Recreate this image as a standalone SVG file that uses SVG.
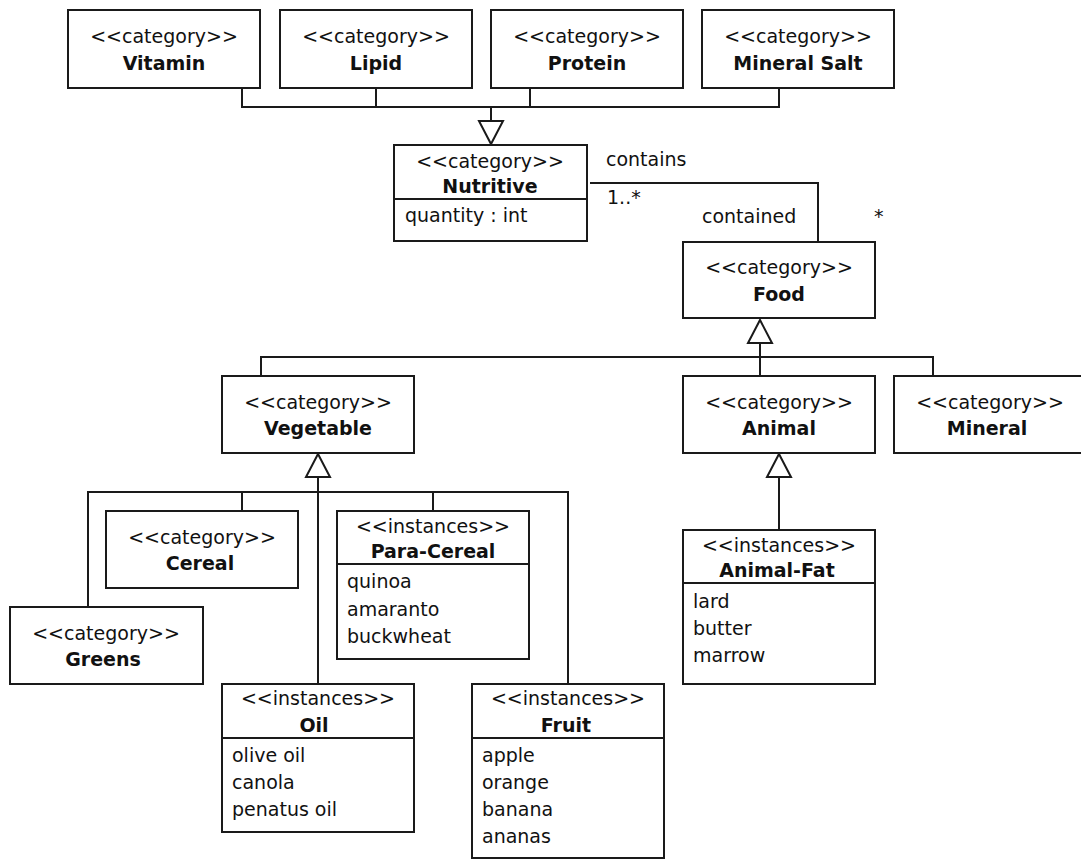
<svg xmlns="http://www.w3.org/2000/svg" width="1081" height="860" viewBox="0 0 1081 860">
<style>
.box{fill:#fff;stroke:#1a1a1a;stroke-width:2}
.div{stroke:#1a1a1a;stroke-width:2}
.ln{fill:none;stroke:#1a1a1a;stroke-width:2}
.tri{fill:#fff;stroke:#1a1a1a;stroke-width:2}
text{font-family:"DejaVu Sans",Verdana,sans-serif;font-size:19px;fill:#111}
.st{text-anchor:middle}
.nm{text-anchor:middle;font-weight:bold}
</style>
<rect width="1081" height="860" fill="#fff"/>
<g id="connectors">
  <path class="ln" d="M242,89 V107 H779 V89 M376,89 V107 M530,89 V107 M491,107 V121"/>
  <polygon class="tri" points="479,121 503,121 491,144"/>
  <path class="ln" d="M590,183 H818 V242"/>
  <text x="606" y="166">contains</text>
  <text x="607" y="204">1..*</text>
  <text x="702" y="223">contained</text>
  <text x="874" y="223">*</text>
  <path class="ln" d="M261,376 V357 H933 V376 M760,343 V376"/>
  <polygon class="tri" points="748,343 772,343 760,320"/>
  <path class="ln" d="M88,607 V492 H568 V684 M242,492 V511 M433,492 V511 M318,477 V684"/>
  <polygon class="tri" points="306,477 330,477 318,454"/>
  <path class="ln" d="M779,477 V530"/>
  <polygon class="tri" points="767,477 791,477 779,454"/>
</g>
<g id="vitamin"><rect class="box" x="68" y="10" width="192" height="78"/><text class="st" x="164" y="43">&lt;&lt;category&gt;&gt;</text><text class="nm" x="164" y="70">Vitamin</text></g>
<g id="lipid"><rect class="box" x="280" y="10" width="192" height="78"/><text class="st" x="376" y="43">&lt;&lt;category&gt;&gt;</text><text class="nm" x="376" y="70">Lipid</text></g>
<g id="protein"><rect class="box" x="491" y="10" width="192" height="78"/><text class="st" x="587" y="43">&lt;&lt;category&gt;&gt;</text><text class="nm" x="587" y="70">Protein</text></g>
<g id="mineralsalt"><rect class="box" x="702" y="10" width="192" height="78"/><text class="st" x="798" y="43">&lt;&lt;category&gt;&gt;</text><text class="nm" x="798" y="70">Mineral Salt</text></g>
<g id="nutritive"><rect class="box" x="394" y="145" width="193" height="96"/><line class="div" x1="394" y1="199" x2="587" y2="199"/><text class="st" x="490" y="168">&lt;&lt;category&gt;&gt;</text><text class="nm" x="490" y="193">Nutritive</text><text x="405" y="222">quantity : int</text></g>
<g id="food"><rect class="box" x="683" y="242" width="192" height="76"/><text class="st" x="779" y="274">&lt;&lt;category&gt;&gt;</text><text class="nm" x="779" y="301">Food</text></g>
<g id="vegetable"><rect class="box" x="222" y="376" width="192" height="77"/><text class="st" x="318" y="409">&lt;&lt;category&gt;&gt;</text><text class="nm" x="318" y="435">Vegetable</text></g>
<g id="animal"><rect class="box" x="683" y="376" width="192" height="77"/><text class="st" x="779" y="409">&lt;&lt;category&gt;&gt;</text><text class="nm" x="779" y="435">Animal</text></g>
<g id="mineral"><rect class="box" x="894" y="376" width="192" height="77"/><text class="st" x="990" y="409">&lt;&lt;category&gt;&gt;</text><text class="nm" x="987" y="435">Mineral</text></g>
<g id="cereal"><rect class="box" x="106" y="511" width="192" height="77"/><text class="st" x="202" y="544">&lt;&lt;category&gt;&gt;</text><text class="nm" x="200" y="570">Cereal</text></g>
<g id="paracereal"><rect class="box" x="337" y="511" width="192" height="148"/><line class="div" x1="337" y1="564" x2="529" y2="564"/><text class="st" x="433" y="533">&lt;&lt;instances&gt;&gt;</text><text class="nm" x="433" y="558">Para-Cereal</text><text x="347" y="588">quinoa</text><text x="347" y="616">amaranto</text><text x="347" y="643">buckwheat</text></g>
<g id="greens"><rect class="box" x="10" y="607" width="193" height="77"/><text class="st" x="106" y="640">&lt;&lt;category&gt;&gt;</text><text class="nm" x="103" y="666">Greens</text></g>
<g id="animalfat"><rect class="box" x="683" y="530" width="192" height="154"/><line class="div" x1="683" y1="583" x2="875" y2="583"/><text class="st" x="779" y="552">&lt;&lt;instances&gt;&gt;</text><text class="nm" x="777" y="577">Animal-Fat</text><text x="693" y="608">lard</text><text x="693" y="635">butter</text><text x="693" y="662">marrow</text></g>
<g id="oil"><rect class="box" x="222" y="684" width="192" height="148"/><line class="div" x1="222" y1="738" x2="414" y2="738"/><text class="st" x="318" y="705">&lt;&lt;instances&gt;&gt;</text><text class="nm" x="314" y="732">Oil</text><text x="232" y="762">olive oil</text><text x="232" y="789">canola</text><text x="232" y="816">penatus oil</text></g>
<g id="fruit"><rect class="box" x="472" y="684" width="192" height="174"/><line class="div" x1="472" y1="738" x2="664" y2="738"/><text class="st" x="568" y="705">&lt;&lt;instances&gt;&gt;</text><text class="nm" x="566" y="732">Fruit</text><text x="482" y="762">apple</text><text x="482" y="789">orange</text><text x="482" y="816">banana</text><text x="482" y="843">ananas</text></g>
</svg>
